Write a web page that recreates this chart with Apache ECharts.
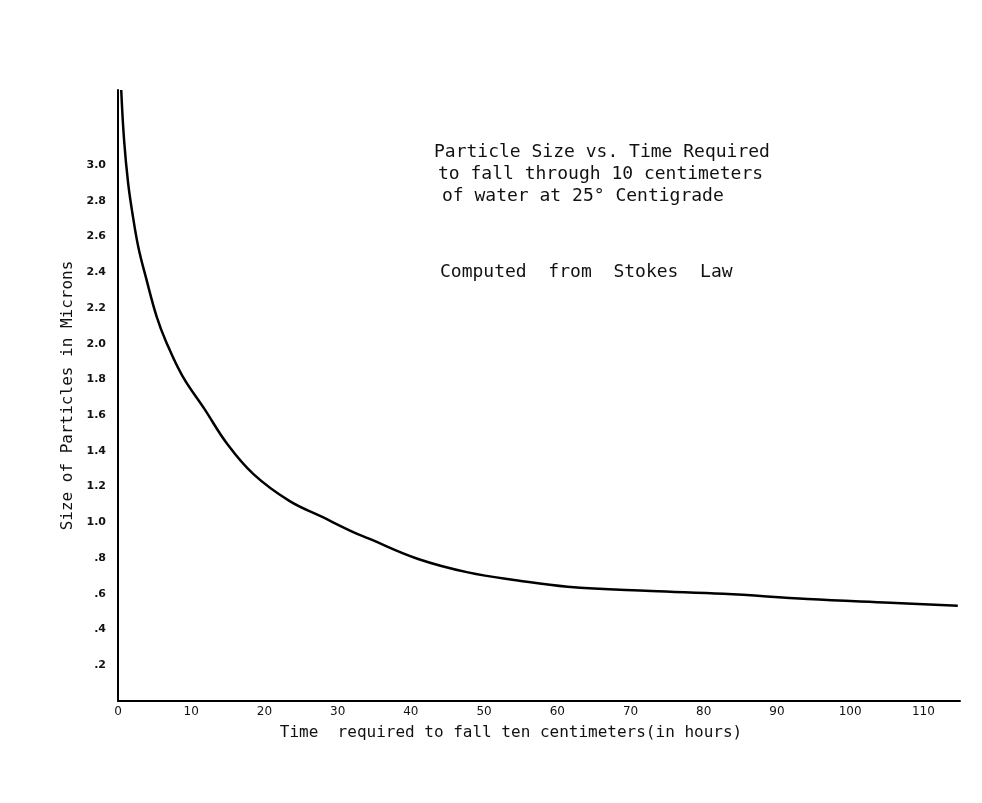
<!DOCTYPE html>
<html>
<head>
<meta charset="utf-8">
<script src="https://cdn.jsdelivr.net/npm/echarts@6/dist/echarts.min.js"></script>
<style>html,body{margin:0;padding:0;background:#fff;}#c{width:982px;height:803px;}</style>
</head>
<body>
<div id="c"></div>
<script>
// Time required to fall ten centimeters (hours)
const times = [0.44, 0.83, 1.38, 1.97, 2.78, 3.82, 5.29, 6.58, 8.79, 11.8, 14.9, 18.5, 23.4, 27.9, 31.9, 34.2, 41.0, 47.8, 54.6, 61.4, 72.8, 82.7, 94.2, 105.5, 114.7];
// Size of particles (microns)
const sizes = [3.42, 3.14, 2.90, 2.73, 2.54, 2.37, 2.15, 2.01, 1.82, 1.635, 1.44, 1.27, 1.12, 1.03, 0.95, 0.91, 0.795, 0.72, 0.675, 0.64, 0.616, 0.60, 0.571, 0.55, 0.533];
const xTicks = [0, 10, 20, 30, 40, 50, 60, 70, 80, 90, 100, 110];
const yTicks = ['.2', '.4', '.6', '.8', '1.0', '1.2', '1.4', '1.6', '1.8', '2.0', '2.2', '2.4', '2.6', '2.8', '3.0'];
const titleLines = ['Particle Size vs. Time Required', 'to fall through 10 centimeters', 'of water at 25° Centigrade'];
const subTitle = 'Computed  from  Stokes  Law';

const MONO = 'DejaVu Sans Mono';
const SANS = 'DejaVu Sans';
const chart = echarts.init(document.getElementById('c'));
chart.setOption({
  backgroundColor: '#ffffff',
  animation: false,
  grid: { left: 118, right: 22, top: 90, bottom: 102, containLabel: false },
  xAxis: {
    type: 'value', min: 0, max: 115, interval: 10,
    name: 'Time  required to fall ten centimeters(in hours)',
    nameLocation: 'middle', nameGap: 24,
    nameTextStyle: { fontFamily: MONO, fontSize: 16, color: '#111', padding: [0, 56, 0, 0] },
    axisLine: { lineStyle: { color: '#000', width: 2 } },
    axisTick: { show: false },
    splitLine: { show: false },
    axisLabel: {
      fontFamily: SANS, fontSize: 12, color: '#111', margin: 5,
      formatter: v => (xTicks.indexOf(v) >= 0 ? String(v) : '')
    }
  },
  yAxis: {
    type: 'value', min: 0, max: 3.42, interval: 0.2,
    name: 'Size of Particles in Microns',
    nameLocation: 'middle', nameGap: 40,
    nameTextStyle: { fontFamily: MONO, fontSize: 16, color: '#111' },
    axisLine: { lineStyle: { color: '#000', width: 2 } },
    axisTick: { show: false },
    splitLine: { show: false },
    axisLabel: {
      fontFamily: SANS, fontSize: 11, fontWeight: 'bold', color: '#111', margin: 12,
      formatter: v => {
        const i = Math.round(v / 0.2) - 1;
        return (i >= 0 && i < yTicks.length && Math.abs(v - (i + 1) * 0.2) < 1e-6) ? yTicks[i] : '';
      }
    }
  },
  graphic: [
    { type: 'text', left: 434, top: 143, style: { text: titleLines[0], fontFamily: MONO, fontSize: 18, fill: '#111' } },
    { type: 'text', left: 438, top: 165, style: { text: titleLines[1], fontFamily: MONO, fontSize: 18, fill: '#111' } },
    { type: 'text', left: 442, top: 187, style: { text: titleLines[2], fontFamily: MONO, fontSize: 18, fill: '#111' } },
    { type: 'text', left: 440, top: 263, style: { text: subTitle, fontFamily: MONO, fontSize: 18, fill: '#111' } }
  ],
  series: [{
    type: 'line',
    data: times.map((t, i) => [t, sizes[i]]),
    smooth: 0.4,
    symbol: 'none',
    lineStyle: { color: '#000', width: 2.5 }
  }]
});
</script>
</body>
</html>
